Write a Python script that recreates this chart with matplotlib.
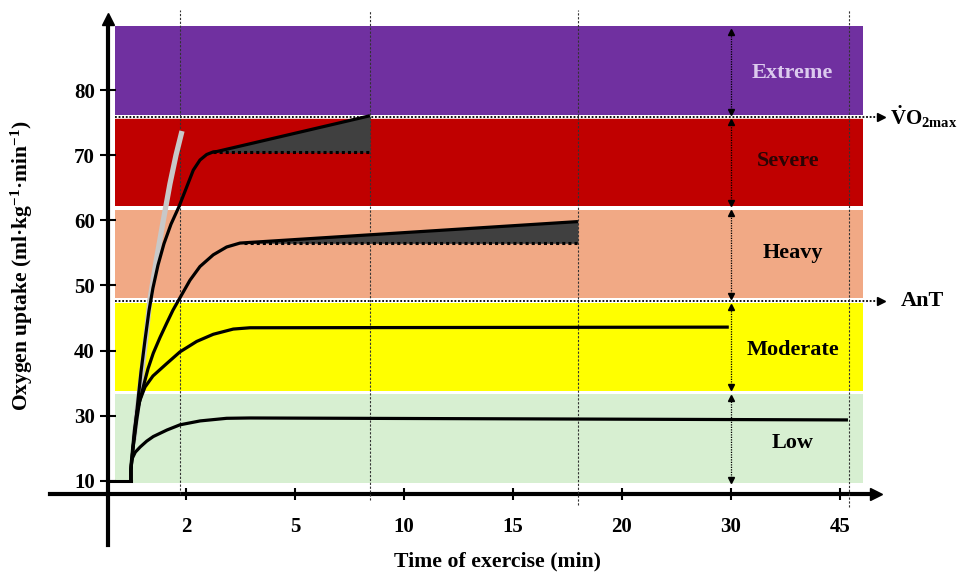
import numpy as np
import matplotlib
matplotlib.use("Agg")
import matplotlib.pyplot as plt

plt.rcParams['font.family'] = ['Liberation Serif', 'DejaVu Serif']
plt.rcParams['font.weight'] = 'bold'
plt.rcParams['mathtext.fontset'] = 'custom'
plt.rcParams['mathtext.rm'] = 'Liberation Serif:bold'
plt.rcParams['mathtext.bf'] = 'Liberation Serif:bold'
plt.rcParams['mathtext.it'] = 'Liberation Serif:bold:italic'

# schematic time axis: ticks are evenly spaced, not linear in minutes
tick_minutes = [2, 5, 10, 15, 20, 30, 45]
knot_minutes = [-2, 0, 2, 5, 10, 15, 20, 30, 45, 60]
knot_pos = [-1, 0, 1, 2, 3, 4, 5, 6, 7, 8]

y_ticks = [20, 30, 40, 50, 60, 70, 80]
y_tick_labels = ['10', '30', '40', '50', '60', '70', '80']

# intensity domains (VO2, ml/kg/min)
zone_names = ['Extreme', 'Severe', 'Heavy', 'Moderate', 'Low']
zone_lo = [76.2, 62.2, 48.0, 33.8, 19.7]
zone_hi = [89.8, 75.65, 61.6, 47.35, 33.3]
zone_colors = ['#7030a0', '#c00000', '#f1a985', '#ffff00', '#d7efd1']
zone_text_colors = ['#dccbee', '#2a0505', 'black', 'black', 'black']
zone_label_t = [38.5, 37.9, 38.5, 38.5, 38.5]
zone_label_v = [82.6, 69.1, 55.0, 40.1, 25.8]
zone_arrow_lo = [76.6, 62.65, 48.4, 34.45, 20.1]
zone_arrow_hi = [88.9, 75.1, 61.1, 46.7, 32.7]
zone_t = [0.697, 48.2]

vo2max = 75.9
ant = 47.65

baseline_t = [0.569, 0.99]
baseline_v = [20.0, 20.0]

low_t = [0.99, 0.99, 1.00, 1.07, 1.16, 1.28, 1.40, 1.65, 1.89, 2.39, 3.12, 3.76, 46.1]
low_v = [20.0, 21.7, 23.2, 24.4, 25.2, 26.1, 26.8, 27.8, 28.6, 29.2, 29.6, 29.65, 29.35]

mod_t = [0.99, 0.99, 1.018, 1.055, 1.101, 1.156, 1.248, 1.394, 1.646, 1.890, 2.294, 2.751,
         3.302, 3.762, 29.8]
mod_v = [20.0, 21.7, 24.7, 27.8, 30.6, 32.4, 34.4, 36.1, 38.0, 39.8, 41.4, 42.5, 43.3, 43.5, 43.6]

heavy_t = [0.99, 0.99, 1.028, 1.095, 1.147, 1.217, 1.303, 1.400, 1.523, 1.646, 1.761, 1.890,
           2.110, 2.385, 2.751, 3.120, 3.486, 3.761, 17.98]
heavy_v = [20.0, 21.7, 25.0, 29.3, 32.1, 34.45, 37.2, 39.6, 42.0, 44.2, 46.2, 48.1, 50.8, 52.9,
           54.7, 55.9, 56.5, 56.6, 59.8]
heavy_base_t = [3.6, 17.98]
heavy_base_v = 56.47

severe_t = [0.99, 0.99, 1.028, 1.064, 1.110, 1.174, 1.248, 1.321, 1.394, 1.486, 1.596, 1.725,
            1.872, 2.019, 2.201, 2.385, 2.570, 2.751, 2.853, 8.44]
severe_v = [20.0, 21.7, 25.0, 27.8, 31.6, 36.7, 41.6, 46.1, 49.6, 53.1, 56.4, 59.4, 62.1, 65.1,
            67.7, 69.25, 70.1, 70.5, 70.56, 76.05]
severe_base_t = [2.75, 8.44]
severe_base_v = 70.44

extreme_t = [1.046, 1.101, 1.174, 1.266, 1.339, 1.450, 1.578, 1.706, 1.817, 1.927]
extreme_v = [26.3, 30.6, 35.5, 42.2, 47.8, 53.6, 59.7, 65.6, 70.0, 73.7]

vline_t = [1.89, 8.44, 18.0, 46.2]
vline_bottom = [18.0, 17.06, 16.3, 16.0]
vline_top = 92.3


def fwd(x):
    return np.interp(x, knot_minutes, knot_pos)


def inv(x):
    return np.interp(x, knot_pos, knot_minutes)


fig = plt.figure(figsize=(9.63, 5.74), dpi=100)
ax = fig.add_axes([50 / 963, 1 - 545 / 574, 825 / 963, 523 / 574])
ax.set_xscale('function', functions=(fwd, inv))
ax.set_xlim(-0.495, 49.82)
ax.set_ylim(10.15, 90.44)

for lo, hi, c in zip(zone_lo, zone_hi, zone_colors):
    ax.fill_between(zone_t, lo, hi, color=c, lw=0, zorder=1)

# threshold lines with arrows
for v in [vo2max, ant]:
    ax.plot(zone_t, [v, v], color='white', lw=2.6, zorder=2, solid_capstyle='butt')
    ax.plot([zone_t[0], 50.2], [v, v], color='black', lw=1.3, ls=(0, (1, 1)), zorder=2.1,
            clip_on=False)
    ax.plot(50.64, v, marker='>', ms=6, color='black', clip_on=False, zorder=2.2)
ax.text(51.9, vo2max, r'$\dot{\mathrm{V}}\mathrm{O}_{\mathrm{2max}}$', fontsize=15,
        ha='left', va='center', clip_on=False)
ax.text(53.3, ant, 'AnT', fontsize=16, ha='left', va='center', clip_on=False)

for t, b in zip(vline_t, vline_bottom):
    ax.plot([t, t], [b, vline_top], color='#333333', lw=0.8, ls=(0, (2, 1.5)), zorder=3,
            clip_on=False)

# slow component areas
ax.fill_between(severe_base_t, severe_base_v, [severe_v[-2], severe_v[-1]],
                color='#404040', lw=0, zorder=3.5)
ax.fill_between(heavy_base_t, heavy_base_v, [heavy_v[-2], heavy_v[-1]],
                color='#404040', lw=0, zorder=3.5)
ax.plot(severe_base_t, [severe_base_v] * 2, color='black', lw=2.2, ls=(0, (1, 1)), zorder=4)
ax.plot(heavy_base_t, [heavy_base_v] * 2, color='black', lw=2.2, ls=(0, (1, 1)), zorder=4)

ax.plot(extreme_t, extreme_v, color='#c8c8c8', lw=3.8, zorder=4.5, solid_capstyle='butt')

ax.plot(baseline_t, baseline_v, color='black', lw=2.2, zorder=5)
for t, v in [(low_t, low_v), (mod_t, mod_v), (heavy_t, heavy_v), (severe_t, severe_v)]:
    ax.plot(t, v, color='black', lw=2.3, zorder=5, solid_capstyle='butt')

# domain labels and double arrows
for name, tc, lt, lv, lo, hi in zip(zone_names, zone_text_colors, zone_label_t, zone_label_v,
                                    zone_arrow_lo, zone_arrow_hi):
    ax.text(lt, lv, name, color=tc, fontsize=16, ha='center', va='center', zorder=6)
    ax.plot([30, 30], [lo, hi], color='black', lw=0.9, ls=(0, (1, 1)), zorder=6)
    ax.plot(30, hi, marker='^', ms=4.5, color='black', zorder=6)
    ax.plot(30, lo, marker='v', ms=4.5, color='black', zorder=6)

# axes as arrows crossing at the origin
for s in ['top', 'right']:
    ax.spines[s].set_visible(False)
ax.spines['left'].set_position(('data', 0.569))
ax.spines['bottom'].set_position(('data', 18.0))
ax.spines['left'].set_linewidth(3)
ax.spines['bottom'].set_linewidth(3)
ax.plot(0.569, 90.9, marker='^', ms=9, color='black', clip_on=False, zorder=7)
ax.plot(49.95, 18.0, marker='>', ms=9, color='black', clip_on=False, zorder=7)

ax.set_xticks(tick_minutes)
ax.set_xticklabels([str(t) for t in tick_minutes])
ax.xaxis.set_minor_locator(matplotlib.ticker.NullLocator())
ax.set_yticks(y_ticks)
ax.set_yticklabels(y_tick_labels)
ax.tick_params(axis='y', direction='inout', length=11, width=1.5, pad=4, labelsize=15)
ax.tick_params(axis='x', direction='inout', length=9, width=1.5, pad=12, labelsize=15)

fig.text(498 / 963, 1 - 561 / 574, 'Time of exercise (min)', fontsize=15.7, ha='center',
         va='center')
fig.text(22 / 963, 1 - 266 / 574, 'Oxygen uptake (ml·kg$^{-1}$·min$^{-1}$)', fontsize=15.5,
         rotation=90, ha='center', va='center')

fig.savefig('out.png', dpi=100)
